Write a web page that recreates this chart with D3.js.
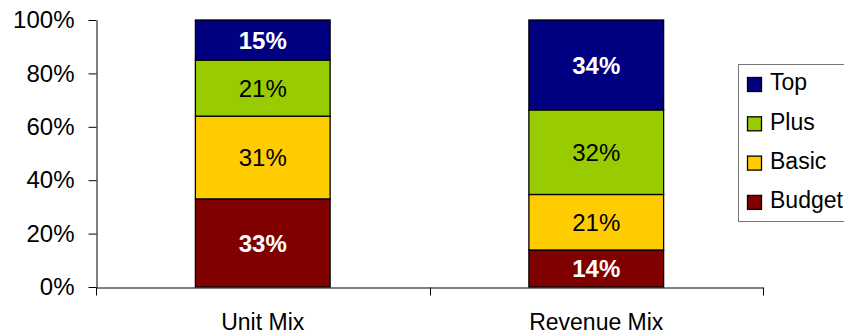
<!DOCTYPE html>
<html>
<head>
<meta charset="utf-8">
<script src="https://cdn.jsdelivr.net/npm/d3@7"></script>
<style>
  html, body { margin: 0; padding: 0; background: #fff; }
  svg { display: block; font-family: "Liberation Sans", Arial, sans-serif; }
</style>
</head>
<body>
<svg id="chart" width="844" height="335"></svg>
<script>
// Product mix by tier, in percent of each column
const categories = ["Unit Mix", "Revenue Mix"];
const seriesNames = ["Budget", "Basic", "Plus", "Top"];
const budgetValues = [33, 14];
const basicValues = [31, 21];
const plusValues = [21, 32];
const topValues = [15, 34];
const yTickValues = [0, 0.2, 0.4, 0.6, 0.8, 1];

const colors = { Budget: "#800000", Basic: "#FFCC00", Plus: "#99CC00", Top: "#000080" };
const whiteBold = { Budget: true, Top: true };

const rows = categories.map((c, i) => ({
  category: c, Budget: budgetValues[i], Basic: basicValues[i], Plus: plusValues[i], Top: topValues[i]
}));

const svg = d3.select("#chart");
const plot = { left: 96, right: 763, top: 20, bottom: 287 };

const x = d3.scaleBand().domain(categories).range([plot.left, plot.right]).padding(0);
const y = d3.scaleLinear().domain([0, 1]).range([plot.bottom, plot.top]);
const barWidth = x.bandwidth() * 0.404;

const stacked = d3.stack().keys(seriesNames).offset(d3.stackOffsetExpand)(rows);

// Stacked bars
const layers = svg.append("g").selectAll("g").data(stacked).join("g")
  .attr("fill", d => colors[d.key]);

layers.selectAll("rect").data(d => d.map(p => ({ key: d.key, p }))).join("rect")
  .attr("x", d => x(d.p.data.category) + x.bandwidth() / 2 - barWidth / 2)
  .attr("y", d => y(d.p[1]))
  .attr("width", barWidth)
  .attr("height", d => y(d.p[0]) - y(d.p[1]))
  .attr("stroke", "#000")
  .attr("stroke-width", 1.3);

// Segment value labels
layers.selectAll("text").data(d => d.map(p => ({ key: d.key, p }))).join("text")
  .attr("x", d => x(d.p.data.category) + x.bandwidth() / 2)
  .attr("y", d => (y(d.p[0]) + y(d.p[1])) / 2)
  .attr("dy", "0.36em")
  .attr("text-anchor", "middle")
  .attr("font-size", 24)
  .attr("font-weight", d => whiteBold[d.key] ? "bold" : "normal")
  .attr("fill", d => whiteBold[d.key] ? "#fff" : "#000")
  .text(d => d.p.data[d.key] + "%");

// Y axis
const yAxis = svg.append("g")
  .attr("transform", `translate(${plot.left + 0.5},0)`)
  .call(d3.axisLeft(y).tickValues(yTickValues).tickFormat(d3.format(".0%"))
    .tickSize(8).tickSizeOuter(0).tickPadding(14));
yAxis.selectAll("text").attr("font-size", 24).attr("fill", "#000")
  .attr("font-family", "Liberation Sans, Arial, sans-serif");
yAxis.selectAll("line, path").attr("stroke", "#000");

// X axis: category labels centred in bands, ticks on band boundaries
const xAxis = svg.append("g")
  .attr("transform", `translate(0,${plot.bottom + 0.5})`)
  .call(d3.axisBottom(x).tickSize(0).tickSizeOuter(0).tickPadding(26));
xAxis.select(".domain").attr("stroke", "#000");
xAxis.selectAll("text").attr("font-size", 23).attr("fill", "#000")
  .attr("font-family", "Liberation Sans, Arial, sans-serif");

const boundaries = categories.map(c => x(c)).concat([x(categories[categories.length - 1]) + x.step()]);
xAxis.selectAll("line.boundary").data(boundaries).join("line")
  .attr("class", "boundary")
  .attr("x1", d => Math.round(d) + 0.5).attr("x2", d => Math.round(d) + 0.5)
  .attr("y1", 0).attr("y2", 8)
  .attr("stroke", "#000");

// Legend
const legend = svg.append("g");
legend.append("rect")
  .attr("x", 738.5).attr("y", 64.5).attr("width", 120).attr("height", 157)
  .attr("fill", "#fff").attr("stroke", "#777");

const legendOrder = seriesNames.slice().reverse();
const item = legend.selectAll("g.item").data(legendOrder).join("g")
  .attr("class", "item")
  .attr("transform", (d, i) => `translate(747,${84 + i * 39.3})`);
item.append("rect")
  .attr("x", 0.5).attr("y", -6.5).attr("width", 14).attr("height", 14)
  .attr("fill", d => colors[d]).attr("stroke", "#000").attr("stroke-width", 1.3);
item.append("text")
  .attr("x", 23).attr("y", 0).attr("dy", "0.28em")
  .attr("font-size", 23).attr("fill", "#000")
  .text(d => d);
</script>
</body>
</html>
